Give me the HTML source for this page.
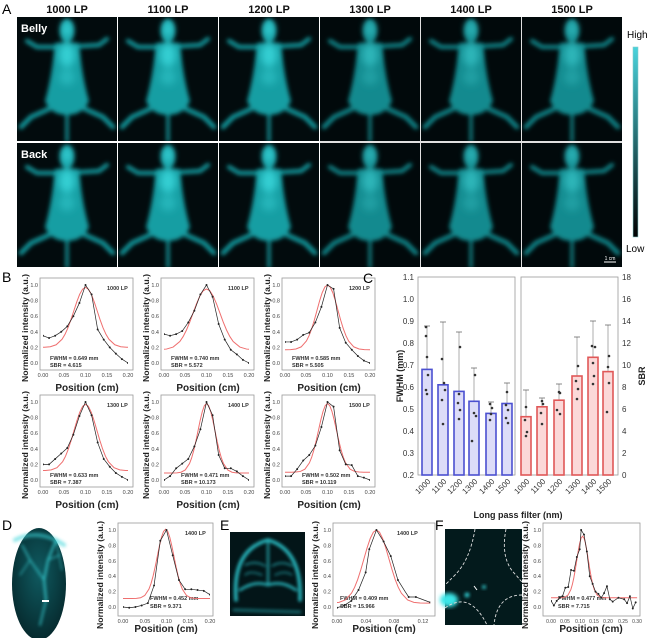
<!DOCTYPE html>
<html><head><meta charset="utf-8"><style>
html,body{margin:0;padding:0;background:#fff;}
svg{display:block;font-family:"Liberation Sans",sans-serif;}
</style></head><body>
<svg width="650" height="638" viewBox="0 0 650 638" xmlns="http://www.w3.org/2000/svg">
<defs>
<filter id="bl" x="-20%" y="-20%" width="140%" height="140%"><feGaussianBlur stdDeviation="2.2"/></filter>
<filter id="bls" x="-50%" y="-50%" width="200%" height="200%"><feGaussianBlur stdDeviation="1.5"/></filter>
<filter id="bl2" x="-50%" y="-50%" width="200%" height="200%"><feGaussianBlur stdDeviation="4"/></filter>
<linearGradient id="cb" x1="0" y1="1" x2="0" y2="0"><stop offset="0" stop-color="#000"/><stop offset="1" stop-color="#49d3dc"/></linearGradient>
<radialGradient id="dg" cx="0.5" cy="0.4" r="0.6"><stop offset="0" stop-color="#0f5a60"/><stop offset="1" stop-color="#062a2e"/></radialGradient>
<symbol id="mouse" viewBox="0 0 100 124" width="100" height="124">
<rect width="100" height="124" fill="#020b0d"/>
<g filter="url(#bl)" stroke="#139ea3" stroke-linecap="round" fill="#139ea3">
<path d="M50 30 L20 30 L10 24 M50 30 L82 28 L90 22" stroke-width="4" fill="none"/>
<path d="M32 92 L14 100 L4 110 M68 92 L86 100 L96 110" stroke-width="4.5" fill="none"/>
<path d="M50 95 L50 124" stroke-width="3" fill="none"/>
<ellipse cx="50" cy="14" rx="7" ry="12" stroke="none"/>
<path d="M38 26 Q35 60 28 84 Q34 98 50 98 Q66 98 72 84 Q65 60 62 26 Z" stroke="none"/>
</g>
<g filter="url(#bl2)" fill="#3fe0e4" opacity="0.75">
<ellipse cx="50" cy="12" rx="5" ry="8"/><ellipse cx="50" cy="38" rx="8" ry="12"/><ellipse cx="50" cy="60" rx="8" ry="8" opacity="0.5"/>
</g>
</symbol>
<path id="g" fill="none" vector-effect="non-scaling-stroke" d="M-10 0 L-4 0 L-3.5 .0022 L-3 .0111 L-2.5 .0439 L-2 .1353 L-1.75 .2163 L-1.5 .3247 L-1.25 .4578 L-1 .6065 L-.75 .7548 L-.5 .8825 L-.25 .9692 L0 1 L.25 .9692 L.5 .8825 L.75 .7548 L1 .6065 L1.25 .4578 L1.5 .3247 L1.75 .2163 L2 .1353 L2.5 .0439 L3 .0111 L3.5 .0022 L4 0 L10 0"/>
<clipPath id="c20" clipPathUnits="userSpaceOnUse"><rect x="0" y="-0.3" width="0.2" height="1.6"/></clipPath>
<clipPath id="c13" clipPathUnits="userSpaceOnUse"><rect x="0" y="-0.3" width="0.13" height="1.6"/></clipPath>
<clipPath id="c30" clipPathUnits="userSpaceOnUse"><rect x="0" y="-0.3" width="0.3" height="1.6"/></clipPath>
</defs>

<!-- Panel A -->
<text x="2" y="14" font-size="14">A</text>
<g font-size="11" font-weight="bold" text-anchor="middle" fill="#111">
<text x="67" y="13">1000 LP</text><text x="168" y="13">1100 LP</text><text x="269" y="13">1200 LP</text>
<text x="370" y="13">1300 LP</text><text x="471" y="13">1400 LP</text><text x="572" y="13">1500 LP</text>
</g>
<use href="#mouse" x="17" y="17" width="100" height="124"/>
<use href="#mouse" x="118" y="17" width="100" height="124"/>
<use href="#mouse" x="219" y="17" width="100" height="124"/>
<use href="#mouse" x="320" y="17" width="100" height="124"/>
<use href="#mouse" x="421" y="17" width="100" height="124"/>
<use href="#mouse" x="522" y="17" width="100" height="124"/>
<use href="#mouse" x="17" y="143" width="100" height="124"/>
<use href="#mouse" x="118" y="143" width="100" height="124"/>
<use href="#mouse" x="219" y="143" width="100" height="124"/>
<use href="#mouse" x="320" y="143" width="100" height="124"/>
<use href="#mouse" x="421" y="143" width="100" height="124"/>
<use href="#mouse" x="522" y="143" width="100" height="124"/>
<rect x="320" y="17" width="302" height="250" fill="#000" opacity="0.12"/>
<text x="21" y="32" font-size="11" font-weight="bold" fill="#fff">Belly</text>
<text x="21" y="158" font-size="11" font-weight="bold" fill="#fff">Back</text>
<line x1="604" y1="262" x2="616" y2="262" stroke="#fff" stroke-width="1"/>
<text x="610" y="260" font-size="5" fill="#fff" text-anchor="middle">1 cm</text>
<rect x="633" y="47" width="5" height="190" fill="url(#cb)" stroke="#8cc" stroke-width="0.6"/>
<text x="627" y="38" font-size="10">High</text>
<text x="626" y="252" font-size="10">Low</text>

<!-- Panel B -->
<text x="2" y="282" font-size="14">B</text>
<g fill="none" stroke="#999" stroke-width="0.8">
<rect x="40" y="278" width="93" height="92"/><rect x="161" y="278" width="93" height="92"/><rect x="282" y="278" width="93" height="92"/>
<rect x="40" y="395" width="93" height="92"/><rect x="161" y="395" width="93" height="92"/><rect x="282" y="395" width="93" height="92"/>
</g>
<g font-size="5.5" fill="#444" text-anchor="end">
<text x="38" y="287">1.0</text><text x="38" y="302.6">0.8</text><text x="38" y="318.2">0.6</text><text x="38" y="333.8">0.4</text><text x="38" y="349.4">0.2</text><text x="38" y="365">0.0</text>
<text x="159" y="287">1.0</text><text x="159" y="302.6">0.8</text><text x="159" y="318.2">0.6</text><text x="159" y="333.8">0.4</text><text x="159" y="349.4">0.2</text><text x="159" y="365">0.0</text>
<text x="280" y="287">1.0</text><text x="280" y="302.6">0.8</text><text x="280" y="318.2">0.6</text><text x="280" y="333.8">0.4</text><text x="280" y="349.4">0.2</text><text x="280" y="365">0.0</text>
<text x="38" y="404">1.0</text><text x="38" y="419.6">0.8</text><text x="38" y="435.2">0.6</text><text x="38" y="450.8">0.4</text><text x="38" y="466.4">0.2</text><text x="38" y="482">0.0</text>
<text x="159" y="404">1.0</text><text x="159" y="419.6">0.8</text><text x="159" y="435.2">0.6</text><text x="159" y="450.8">0.4</text><text x="159" y="466.4">0.2</text><text x="159" y="482">0.0</text>
<text x="280" y="404">1.0</text><text x="280" y="419.6">0.8</text><text x="280" y="435.2">0.6</text><text x="280" y="450.8">0.4</text><text x="280" y="466.4">0.2</text><text x="280" y="482">0.0</text>
</g>
<g font-size="5.5" fill="#444" text-anchor="middle">
<text x="43" y="377">0.00</text><text x="64" y="377">0.05</text><text x="85.5" y="377">0.10</text><text x="107" y="377">0.15</text><text x="128" y="377">0.20</text>
<text x="164" y="377">0.00</text><text x="185" y="377">0.05</text><text x="206.5" y="377">0.10</text><text x="228" y="377">0.15</text><text x="249" y="377">0.20</text>
<text x="285" y="377">0.00</text><text x="306" y="377">0.05</text><text x="327.5" y="377">0.10</text><text x="349" y="377">0.15</text><text x="370" y="377">0.20</text>
<text x="43" y="494">0.00</text><text x="64" y="494">0.05</text><text x="85.5" y="494">0.10</text><text x="107" y="494">0.15</text><text x="128" y="494">0.20</text>
<text x="164" y="494">0.00</text><text x="185" y="494">0.05</text><text x="206.5" y="494">0.10</text><text x="228" y="494">0.15</text><text x="249" y="494">0.20</text>
<text x="285" y="494">0.00</text><text x="306" y="494">0.05</text><text x="327.5" y="494">0.10</text><text x="349" y="494">0.15</text><text x="370" y="494">0.20</text>
</g>
<g font-size="10" font-weight="bold" fill="#222" text-anchor="middle">
<text x="87" y="391">Position (cm)</text><text x="208" y="391">Position (cm)</text><text x="329" y="391">Position (cm)</text>
<text x="87" y="508">Position (cm)</text><text x="208" y="508">Position (cm)</text><text x="329" y="508">Position (cm)</text>
<text x="166" y="632">Position (cm)</text><text x="384" y="632">Position (cm)</text><text x="591" y="632">Position (cm)</text>
</g>
<g font-size="8" font-weight="bold" fill="#222" text-anchor="middle">
<text transform="translate(28,328) rotate(-90)" textLength="108" lengthAdjust="spacingAndGlyphs">Normalized intensity (a.u.)</text>
<text transform="translate(149,328) rotate(-90)" textLength="108" lengthAdjust="spacingAndGlyphs">Normalized intensity (a.u.)</text>
<text transform="translate(270,328) rotate(-90)" textLength="108" lengthAdjust="spacingAndGlyphs">Normalized intensity (a.u.)</text>
<text transform="translate(28,445) rotate(-90)" textLength="108" lengthAdjust="spacingAndGlyphs">Normalized intensity (a.u.)</text>
<text transform="translate(149,445) rotate(-90)" textLength="108" lengthAdjust="spacingAndGlyphs">Normalized intensity (a.u.)</text>
<text transform="translate(270,445) rotate(-90)" textLength="108" lengthAdjust="spacingAndGlyphs">Normalized intensity (a.u.)</text>
<text transform="translate(103,575) rotate(-90)" textLength="108" lengthAdjust="spacingAndGlyphs">Normalized intensity (a.u.)</text>
<text transform="translate(318,575) rotate(-90)" textLength="108" lengthAdjust="spacingAndGlyphs">Normalized intensity (a.u.)</text>
<text transform="translate(528,575) rotate(-90)" textLength="108" lengthAdjust="spacingAndGlyphs">Normalized intensity (a.u.)</text>
</g>

<!-- curves -->
<g fill="none">
<g transform="translate(43,363) scale(425,-78)" clip-path="url(#c20)">
<use href="#g" transform="translate(0.1,0.2) scale(0.0276,0.77)" stroke="#ef6f6f" stroke-width="1"/>
<polyline vector-effect="non-scaling-stroke" stroke="#222" stroke-width="0.7" points="0,.35 .0143,.32 .0286,.35 .0429,.40 .0571,.47 .0714,.60 .0857,.77 .1,1 .1143,.88 .1286,.43 .1429,.30 .1571,.20 .1714,.12 .1857,.05 .2,0"/>
<path vector-effect="non-scaling-stroke" stroke="#222" stroke-width="2" stroke-linecap="round" d="M0 .35h0M.0143 .32h0M.0286 .35h0M.0429 .40h0M.0571 .47h0M.0714 .60h0M.0857 .77h0M.1 1h0M.1143 .88h0M.1286 .43h0M.1429 .30h0M.1571 .20h0M.1714 .12h0M.1857 .05h0M.2 0h0"/>
</g>
<g transform="translate(164,363) scale(425,-78)" clip-path="url(#c20)">
<use href="#g" transform="translate(0.1,0.17) scale(0.0314,0.78)" stroke="#ef6f6f" stroke-width="1"/>
<polyline vector-effect="non-scaling-stroke" stroke="#222" stroke-width="0.7" points="0,.37 .0143,.35 .0286,.37 .0429,.41 .0571,.52 .0714,.67 .0857,.88 .1,1 .1143,.85 .1286,.50 .1429,.30 .1571,.17 .1714,.11 .1857,.04 .2,0"/>
<path vector-effect="non-scaling-stroke" stroke="#222" stroke-width="2" stroke-linecap="round" d="M0 .37h0M.0143 .35h0M.0286 .37h0M.0429 .41h0M.0571 .52h0M.0714 .67h0M.0857 .88h0M.1 1h0M.1143 .85h0M.1286 .50h0M.1429 .30h0M.1571 .17h0M.1714 .11h0M.1857 .04h0M.2 0h0"/>
</g>
<g transform="translate(285,363) scale(425,-78)" clip-path="url(#c20)">
<use href="#g" transform="translate(0.1,0.17) scale(0.0248,0.83)" stroke="#ef6f6f" stroke-width="1"/>
<polyline vector-effect="non-scaling-stroke" stroke="#222" stroke-width="0.7" points="0,.27 .0143,.27 .0286,.30 .0429,.36 .0571,.39 .0714,.52 .0857,.72 .1,1 .1143,.95 .1286,.45 .1429,.26 .1571,.17 .1714,.09 .1857,.03 .2,0"/>
<path vector-effect="non-scaling-stroke" stroke="#222" stroke-width="2" stroke-linecap="round" d="M0 .27h0M.0143 .27h0M.0286 .30h0M.0429 .36h0M.0571 .39h0M.0714 .52h0M.0857 .72h0M.1 1h0M.1143 .95h0M.1286 .45h0M.1429 .26h0M.1571 .17h0M.1714 .09h0M.1857 .03h0M.2 0h0"/>
</g>
<g transform="translate(43,480) scale(425,-78)" clip-path="url(#c20)">
<use href="#g" transform="translate(0.1,0.12) scale(0.0269,0.85)" stroke="#ef6f6f" stroke-width="1"/>
<polyline vector-effect="non-scaling-stroke" stroke="#222" stroke-width="0.7" points="0,.20 .0143,.20 .0286,.27 .0429,.34 .0571,.41 .0714,.58 .0857,.82 .1,1 .1143,.83 .1286,.48 .1429,.27 .1571,.17 .1714,.09 .1857,.04 .2,0"/>
<path vector-effect="non-scaling-stroke" stroke="#222" stroke-width="2" stroke-linecap="round" d="M0 .20h0M.0143 .20h0M.0286 .27h0M.0429 .34h0M.0571 .41h0M.0714 .58h0M.0857 .82h0M.1 1h0M.1143 .83h0M.1286 .48h0M.1429 .27h0M.1571 .17h0M.1714 .09h0M.1857 .04h0M.2 0h0"/>
</g>
<g transform="translate(164,480) scale(425,-78)" clip-path="url(#c20)">
<use href="#g" transform="translate(0.1,0.09) scale(0.0200,0.89)" stroke="#ef6f6f" stroke-width="1"/>
<polyline vector-effect="non-scaling-stroke" stroke="#222" stroke-width="0.7" points="0,0 .0143,.05 .0286,.15 .0429,.21 .0571,.27 .0714,.43 .0857,.65 .1,1 .1143,.83 .1286,.32 .1429,.15 .1571,.15 .1714,.11 .1857,.05 .2,0"/>
<path vector-effect="non-scaling-stroke" stroke="#222" stroke-width="2" stroke-linecap="round" d="M0 0h0M.0143 .05h0M.0286 .15h0M.0429 .21h0M.0571 .27h0M.0714 .43h0M.0857 .65h0M.1 1h0M.1143 .83h0M.1286 .32h0M.1429 .15h0M.1571 .15h0M.1714 .11h0M.1857 .05h0M.2 0h0"/>
</g>
<g transform="translate(285,480) scale(425,-78)" clip-path="url(#c20)">
<use href="#g" transform="translate(0.1,0.10) scale(0.0213,0.88)" stroke="#ef6f6f" stroke-width="1"/>
<polyline vector-effect="non-scaling-stroke" stroke="#222" stroke-width="0.7" points="0,.05 .0143,.05 .0286,.14 .0429,.25 .0571,.32 .0714,.44 .0857,.68 .1,1 .1143,.94 .1286,.38 .1429,.20 .1571,.19 .1714,.05 .1857,.03 .2,0"/>
<path vector-effect="non-scaling-stroke" stroke="#222" stroke-width="2" stroke-linecap="round" d="M0 .05h0M.0143 .05h0M.0286 .14h0M.0429 .25h0M.0571 .32h0M.0714 .44h0M.0857 .68h0M.1 1h0M.1143 .94h0M.1286 .38h0M.1429 .20h0M.1571 .19h0M.1714 .05h0M.1857 .03h0M.2 0h0"/>
</g>
</g>
<g font-size="5.5" font-weight="bold" fill="#333">
<text x="107" y="290">1000 LP</text><text x="228" y="290">1100 LP</text><text x="349" y="290">1200 LP</text>
<text x="107" y="407">1300 LP</text><text x="228" y="407">1400 LP</text><text x="349" y="407">1500 LP</text>
<text x="50" y="360">FWHM = 0.649 mm</text><text x="50" y="367">SBR = 4.615</text>
<text x="171" y="360">FWHM = 0.740 mm</text><text x="171" y="367">SBR = 5.572</text>
<text x="292" y="360">FWHM = 0.585 mm</text><text x="292" y="367">SBR = 5.505</text>
<text x="50" y="477">FWHM = 0.633 mm</text><text x="50" y="484">SBR = 7.387</text>
<text x="181" y="477">FWHM = 0.471 mm</text><text x="181" y="484">SBR = 10.173</text>
<text x="302" y="477">FWHM = 0.502 mm</text><text x="302" y="484">SBR = 10.119</text>
<text x="185" y="535">1400 LP</text><text x="397" y="535">1400 LP</text>
<text x="150" y="600">FWHM = 0.452 mm</text><text x="150" y="608">SBR = 9.371</text>
<text x="340" y="600">FWHM = 0.409 mm</text><text x="340" y="608">SBR = 15.966</text>
<text x="558" y="600">FWHM = 0.477 mm</text><text x="558" y="608">SBR = 7.715</text>
</g>

<!-- Panel C -->
<text x="363" y="283" font-size="14">C</text>
<rect x="418" y="277" width="97" height="198" fill="none" stroke="#999" stroke-width="0.8"/>
<rect x="521" y="277" width="97" height="198" fill="none" stroke="#999" stroke-width="0.8"/>
<g font-size="8" fill="#333" text-anchor="end">
<text x="414" y="478">0.2</text><text x="414" y="456">0.3</text><text x="414" y="434">0.4</text><text x="414" y="412">0.5</text><text x="414" y="390">0.6</text><text x="414" y="368">0.7</text><text x="414" y="346">0.8</text><text x="414" y="324">0.9</text><text x="414" y="302">1.0</text><text x="414" y="280">1.1</text>
</g>
<g font-size="8" fill="#333">
<text x="622" y="478">0</text><text x="622" y="456">2</text><text x="622" y="434">4</text><text x="622" y="412">6</text><text x="622" y="390">8</text><text x="622" y="368">10</text><text x="622" y="346">12</text><text x="622" y="324">14</text><text x="622" y="302">16</text><text x="622" y="280">18</text>
</g>
<text transform="translate(403,376) rotate(-90)" font-size="9" font-weight="bold" text-anchor="middle" fill="#222">FWHM (mm)</text>
<text transform="translate(645,376) rotate(-90)" font-size="9" font-weight="bold" text-anchor="middle" fill="#222">SBR</text>
<g stroke="#999" stroke-width="0.8">
<line x1="427" y1="369" x2="427" y2="326"/><line x1="443" y1="385" x2="443" y2="322"/><line x1="459" y1="391" x2="459" y2="332"/><line x1="474" y1="401" x2="474" y2="368"/><line x1="491" y1="413" x2="491" y2="402"/><line x1="507" y1="403" x2="507" y2="383"/>
<line x1="526" y1="417" x2="526" y2="390"/><line x1="542" y1="407" x2="542" y2="398"/><line x1="559" y1="400" x2="559" y2="384"/><line x1="577" y1="376" x2="577" y2="337"/><line x1="593" y1="357" x2="593" y2="321"/><line x1="608" y1="372" x2="608" y2="325"/>
</g>
<g fill="#dcdcf8" stroke="#4b50d0" stroke-width="1.6">
<rect x="422" y="369.4" width="10" height="105.6"/><rect x="438" y="384.8" width="10" height="90.2"/><rect x="454" y="391.4" width="10" height="83.6"/><rect x="469" y="401.3" width="10" height="73.7"/><rect x="486" y="413.4" width="10" height="61.6"/><rect x="502" y="403.5" width="10" height="71.5"/>
</g>
<g fill="#fbd8d8" stroke="#e05858" stroke-width="1.6">
<rect x="521" y="416.7" width="10" height="58.3"/><rect x="537" y="406.8" width="10" height="68.2"/><rect x="554" y="400.2" width="10" height="74.8"/><rect x="572" y="376" width="10" height="99"/><rect x="588" y="357.3" width="10" height="117.7"/><rect x="603" y="371.6" width="10" height="103.4"/>
</g>
<g stroke="#555" stroke-width="0.7">
<line x1="424" y1="326" x2="430" y2="326"/><line x1="440" y1="322" x2="446" y2="322"/><line x1="456" y1="332" x2="462" y2="332"/><line x1="471" y1="368" x2="477" y2="368"/><line x1="488" y1="402" x2="494" y2="402"/><line x1="504" y1="383" x2="510" y2="383"/>
<line x1="523" y1="390" x2="529" y2="390"/><line x1="539" y1="398" x2="545" y2="398"/><line x1="556" y1="384" x2="562" y2="384"/><line x1="574" y1="337" x2="580" y2="337"/><line x1="590" y1="321" x2="596" y2="321"/><line x1="605" y1="325" x2="611" y2="325"/>
</g>
<g fill="#333">
<circle cx="426" cy="327" r="1.3"/><circle cx="426" cy="336" r="1.3"/><circle cx="427" cy="357" r="1.3"/><circle cx="428" cy="375" r="1.3"/><circle cx="426" cy="390" r="1.3"/><circle cx="427" cy="394" r="1.3"/>
<circle cx="442" cy="359" r="1.3"/><circle cx="444" cy="383" r="1.3"/><circle cx="445" cy="390" r="1.3"/><circle cx="442" cy="400" r="1.3"/><circle cx="443" cy="424" r="1.3"/>
<circle cx="460" cy="347" r="1.3"/><circle cx="459" cy="394" r="1.3"/><circle cx="458" cy="403" r="1.3"/><circle cx="460" cy="410" r="1.3"/><circle cx="459" cy="419" r="1.3"/>
<circle cx="475" cy="375" r="1.3"/><circle cx="474" cy="413" r="1.3"/><circle cx="476" cy="416" r="1.3"/><circle cx="472" cy="441" r="1.3"/>
<circle cx="490" cy="404" r="1.3"/><circle cx="492" cy="408" r="1.3"/><circle cx="491" cy="414" r="1.3"/><circle cx="490" cy="420" r="1.3"/>
<circle cx="507" cy="392" r="1.3"/><circle cx="506" cy="405" r="1.3"/><circle cx="508" cy="410" r="1.3"/><circle cx="506" cy="418" r="1.3"/><circle cx="508" cy="423" r="1.3"/>
<circle cx="526" cy="407" r="1.3"/><circle cx="525" cy="420" r="1.3"/><circle cx="527" cy="432" r="1.3"/><circle cx="526" cy="436" r="1.3"/>
<circle cx="542" cy="401" r="1.3"/><circle cx="543" cy="404" r="1.3"/><circle cx="541" cy="413" r="1.3"/><circle cx="542" cy="424" r="1.3"/>
<circle cx="559" cy="392" r="1.3"/><circle cx="560" cy="393" r="1.3"/><circle cx="557" cy="410" r="1.3"/><circle cx="560" cy="414" r="1.3"/>
<circle cx="578" cy="366" r="1.3"/><circle cx="576" cy="381" r="1.3"/><circle cx="578" cy="389" r="1.3"/><circle cx="577" cy="399" r="1.3"/>
<circle cx="592" cy="346" r="1.3"/><circle cx="595" cy="347" r="1.3"/><circle cx="593" cy="363" r="1.3"/><circle cx="594" cy="376" r="1.3"/><circle cx="593" cy="384" r="1.3"/>
<circle cx="609" cy="356" r="1.3"/><circle cx="608" cy="367" r="1.3"/><circle cx="609" cy="383" r="1.3"/><circle cx="607" cy="412" r="1.3"/>
</g>
<g font-size="8" fill="#333" text-anchor="end">
<text transform="translate(431,482) rotate(-45)">1000</text><text transform="translate(447,482) rotate(-45)">1100</text><text transform="translate(463,482) rotate(-45)">1200</text><text transform="translate(478,482) rotate(-45)">1300</text><text transform="translate(495,482) rotate(-45)">1400</text><text transform="translate(511,482) rotate(-45)">1500</text>
<text transform="translate(530,482) rotate(-45)">1000</text><text transform="translate(546,482) rotate(-45)">1100</text><text transform="translate(563,482) rotate(-45)">1200</text><text transform="translate(581,482) rotate(-45)">1300</text><text transform="translate(597,482) rotate(-45)">1400</text><text transform="translate(612,482) rotate(-45)">1500</text>
</g>
<text x="518" y="518" font-size="9" font-weight="bold" text-anchor="middle" fill="#222">Long pass filter (nm)</text>

<!-- Panel D -->
<text x="2" y="530" font-size="14">D</text>
<ellipse cx="39" cy="584" rx="27" ry="56" fill="url(#dg)"/>
<g stroke="#3ad6da" fill="none" stroke-linecap="round" opacity="0.85" filter="url(#bls)">
<path d="M46 600 L44 580 L48 560 L56 540" stroke-width="2"/>
<path d="M44 580 L30 560 L22 545" stroke-width="1.4"/><path d="M48 560 L60 555" stroke-width="1.2"/>
<path d="M46 600 L40 625" stroke-width="1.6"/><path d="M15 540 Q39 528 64 545" stroke-width="4" opacity="0.7"/>
<path d="M30 560 L20 575" stroke-width="1"/><path d="M56 540 L62 570" stroke-width="1"/>
</g>
<rect x="42" y="600" width="7" height="2" fill="#fff"/>
<rect x="118" y="523" width="95" height="93" fill="none" stroke="#999" stroke-width="0.8"/>
<g font-size="5.5" fill="#444" text-anchor="end">
<text x="116" y="532">1.0</text><text x="116" y="547.4">0.8</text><text x="116" y="562.8">0.6</text><text x="116" y="578.2">0.4</text><text x="116" y="593.6">0.2</text><text x="116" y="609">0.0</text>
</g>
<g font-size="5.5" fill="#444" text-anchor="middle">
<text x="123" y="623">0.00</text><text x="145" y="623">0.05</text><text x="166.5" y="623">0.10</text><text x="188" y="623">0.15</text><text x="210" y="623">0.20</text>
</g>
<g transform="translate(123,607) scale(435,-77)" clip-path="url(#c20)" fill="none">
<use href="#g" transform="translate(0.098,0.11) scale(0.0192,0.90)" stroke="#ef6f6f" stroke-width="1"/>
<polyline vector-effect="non-scaling-stroke" stroke="#222" stroke-width="0.7" points="0,0 .0143,-.01 .0286,0 .0429,.02 .0571,.05 .0714,.28 .0857,.86 .1,1 .1143,.67 .1286,.35 .1429,.23 .1571,.23 .1714,.22 .1857,.21 .2,.16"/>
<path vector-effect="non-scaling-stroke" stroke="#222" stroke-width="2" stroke-linecap="round" d="M0 0h0M.0143 -.01h0M.0286 0h0M.0429 .02h0M.0571 .05h0M.0714 .28h0M.0857 .86h0M.1 1h0M.1143 .67h0M.1286 .35h0M.1429 .23h0M.1571 .23h0M.1714 .22h0M.1857 .21h0M.2 .16h0"/>
</g>

<!-- Panel E -->
<text x="220" y="530" font-size="14">E</text>
<rect x="230" y="532" width="75" height="84" fill="#031518"/>
<g stroke="#2fd4dc" fill="none" stroke-linecap="round" opacity="0.85" filter="url(#bls)">
<path d="M236 600 Q232 550 268 540 Q302 550 300 600" stroke-width="3.5"/>
<path d="M268 540 L268 585" stroke-width="1.8"/>
<path d="M240 590 Q255 580 268 585 Q282 580 296 590" stroke-width="2.5"/>
<path d="M245 565 Q256 560 265 566 M272 566 Q282 560 292 566" stroke-width="1.2"/>
<path d="M245 575 Q250 570 262 575 M275 575 Q285 570 292 575" stroke-width="1"/>
<path d="M234 610 L300 612" stroke-width="3" opacity="0.5"/>
</g>
<rect x="333" y="523" width="102" height="93" fill="none" stroke="#999" stroke-width="0.8"/>
<g font-size="5.5" fill="#444" text-anchor="end">
<text x="331" y="532">1.0</text><text x="331" y="547.4">0.8</text><text x="331" y="562.8">0.6</text><text x="331" y="578.2">0.4</text><text x="331" y="593.6">0.2</text><text x="331" y="609">0.0</text>
</g>
<g font-size="5.5" fill="#444" text-anchor="middle">
<text x="337" y="623">0.00</text><text x="366" y="623">0.04</text><text x="394" y="623">0.08</text><text x="423" y="623">0.12</text>
</g>
<g transform="translate(337,607) scale(717,-77)" clip-path="url(#c13)" fill="none">
<use href="#g" transform="translate(0.055,0.05) scale(0.0174,0.95)" stroke="#ef6f6f" stroke-width="1"/>
<polyline vector-effect="non-scaling-stroke" stroke="#222" stroke-width="0.7" points="0,-.01 .01,.02 .02,.08 .03,.22 .04,.45 .045,.75 .055,1 .065,.85 .075,.66 .085,.35 .095,.20 .10,.13 .11,.13 .13,.06"/>
<path vector-effect="non-scaling-stroke" stroke="#222" stroke-width="2" stroke-linecap="round" d="M0 -.01h0M.01 .02h0M.02 .08h0M.03 .22h0M.04 .45h0M.045 .75h0M.055 1h0M.065 .85h0M.075 .66h0M.085 .35h0M.10 .13h0M.11 .13h0M.13 .06h0"/>
</g>

<!-- Panel F -->
<text x="435" y="530" font-size="14">F</text>
<rect x="445" y="529" width="77" height="96" fill="#031a1c"/>
<ellipse cx="449" cy="600" rx="9" ry="7" fill="#3be6e8" filter="url(#bl)"/>
<circle cx="467" cy="595" r="2.5" fill="#2fc8cc" filter="url(#bls)"/>
<circle cx="484" cy="587" r="2" fill="#2fb8bc" filter="url(#bls)"/>
<g stroke="#ddd" stroke-width="0.9" stroke-dasharray="3,2" fill="none">
<path d="M475 529 Q470 560 455 575 Q448 582 445 585"/>
<path d="M506 529 Q500 560 516 575 Q520 580 522 582"/>
<path d="M445 608 Q470 590 487 625"/>
<path d="M522 595 Q497 595 494 625"/>
</g>
<line x1="477" y1="590" x2="474" y2="586" stroke="#fff" stroke-width="1"/>
<rect x="543" y="523" width="97" height="93" fill="none" stroke="#999" stroke-width="0.8"/>
<g font-size="5.5" fill="#444" text-anchor="end">
<text x="541" y="532">1.0</text><text x="541" y="547.4">0.8</text><text x="541" y="562.8">0.6</text><text x="541" y="578.2">0.4</text><text x="541" y="593.6">0.2</text><text x="541" y="609">0.0</text>
</g>
<g font-size="5" fill="#444" text-anchor="middle">
<text x="551" y="623">0.00</text><text x="565" y="623">0.05</text><text x="580" y="623">0.10</text><text x="594" y="623">0.15</text><text x="608" y="623">0.20</text><text x="623" y="623">0.25</text><text x="637" y="623">0.30</text>
</g>
<g transform="translate(551,607) scale(287,-77)" clip-path="url(#c30)" fill="none">
<use href="#g" transform="translate(0.11,0.12) scale(0.0203,0.80)" stroke="#ef6f6f" stroke-width="1"/>
<polyline vector-effect="non-scaling-stroke" stroke="#222" stroke-width="0.7" points="0,.08 .01,.02 .02,.08 .03,.12 .04,.14 .05,.25 .06,.26 .07,.48 .08,.47 .09,.65 .1,.75 .105,1 .115,.94 .125,.72 .135,.40 .145,.30 .155,.20 .165,.17 .175,.12 .185,.18 .195,.27 .205,.10 .215,.07 .235,.12 .255,.10 .265,.05 .275,.14 .285,-.02 .295,.06"/>
<path vector-effect="non-scaling-stroke" stroke="#222" stroke-width="2" stroke-linecap="round" d="M0 .08h0M.01 .02h0M.02 .08h0M.03 .12h0M.04 .14h0M.05 .25h0M.06 .26h0M.07 .48h0M.08 .47h0M.09 .65h0M.1 .75h0M.105 1h0M.115 .94h0M.125 .72h0M.135 .40h0M.145 .30h0M.155 .20h0M.165 .17h0M.175 .12h0M.185 .18h0M.195 .27h0M.205 .10h0M.215 .07h0M.235 .12h0M.255 .10h0M.265 .05h0M.275 .14h0M.285 -.02h0M.295 .06h0"/>
</g>
</svg>
</body></html>
